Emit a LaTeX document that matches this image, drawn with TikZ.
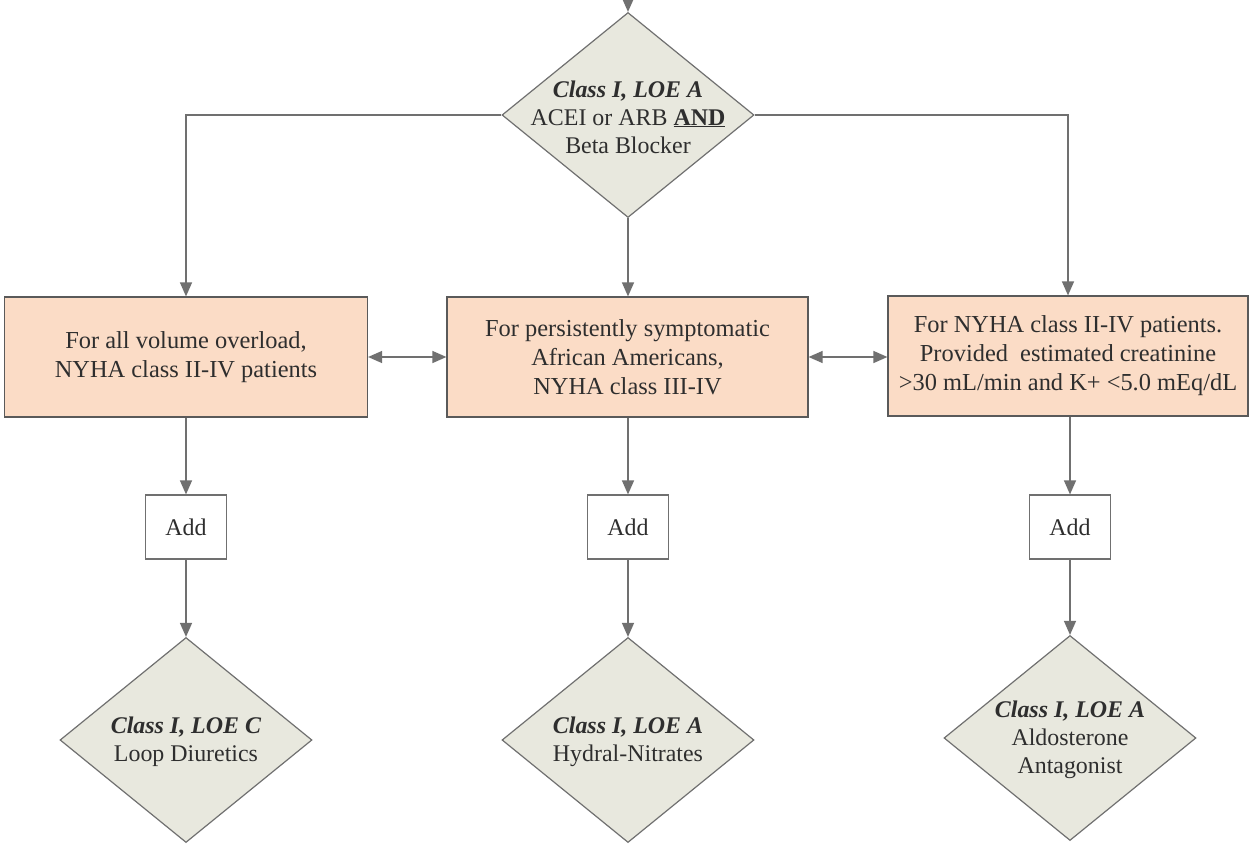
\documentclass[tikz,border=0pt]{standalone}
\usepackage{fontspec}
\setmainfont{Liberation Serif}
\usetikzlibrary{shapes.geometric,arrows.meta}
\definecolor{dfill}{HTML}{E8E8DE}
\definecolor{bfill}{HTML}{FBDCC6}
\definecolor{lgray}{HTML}{707070}
\definecolor{bgray}{HTML}{5A5A5A}
\definecolor{tcol}{HTML}{2E2E2E}
\begin{document}
\begin{tikzpicture}[x=1bp,y=-1bp,
 dia/.style={diamond, draw=lgray, fill=dfill, line width=1.2bp, minimum width=252bp, minimum height=205bp, inner sep=0pt},
 dtext/.style={text=tcol, align=center, font=\fontsize{24}{28}\selectfont},
 box/.style={rectangle, draw=bgray, fill=bfill, line width=1.2bp, minimum height=120bp, text=tcol, align=center, font=\fontsize{24.5}{29}\selectfont},
 addbox/.style={rectangle, draw=lgray, fill=white, line width=1.2bp, minimum width=81bp, minimum height=64bp, text=tcol, font=\fontsize{24}{28}\selectfont},
 arr/.style={draw=lgray, line width=1.3bp, -{Triangle[length=14bp,width=12bp]}},
 darr/.style={draw=lgray, line width=1.3bp, {Triangle[length=14bp,width=12bp]}-{Triangle[length=14bp,width=12bp]}},
]
\useasboundingbox[fill=white] (0,0) rectangle (1251,845);

\node[dia] (top) at (628,115) {};
\node[dtext] (toptext) at (628,117) {\textbf{\textit{Class I, LOE A}}\\ ACEI or ARB \underline{\textbf{AND}}\\ Beta Blocker};

\node[box, minimum width=363bp] (b1) at (186,357) {For all volume overload,\\NYHA class II-IV patients};
\node[box, minimum width=361bp] (b2) at (627.5,357) {For persistently symptomatic\\African Americans,\\NYHA class III-IV};
\node[box, minimum width=360bp] (b3) at (1068,356) {For NYHA class II-IV patients.\\Provided\ \ estimated creatinine\\>30 mL/min and K+ <5.0 mEq/dL};

\node[addbox] (a1) at (186,527) {Add};
\node[addbox] (a2) at (628,527) {Add};
\node[addbox] (a3) at (1070,527) {Add};

\node[dia] (d1) at (186,740) {};
\node[dtext] (d1t) at (186,742) {\textbf{\textit{Class I, LOE C}}\\Loop Diuretics};
\node[dia] (d2) at (628,740) {};
\node[dtext] (d2t) at (628,742) {\textbf{\textit{Class I, LOE A}}\\Hydral-Nitrates};
\node[dia] (d3) at (1070,738) {};
\node[dtext] (d3t) at (1070,740) {\textbf{\textit{Class I, LOE A}}\\Aldosterone\\Antagonist};

\coordinate (start) at (628,-2);
\draw[arr] (start) -- (top.north);
\draw[arr] (top.west) -| (b1.north);
\draw[arr] (top.south) -- (top.south |- b2.north);
\draw[arr] (top.east) -| (b3.north);

\draw[darr] (b1.east) -- (b2.west);
\draw[darr] (b2.east) -- (b2.east -| b3.west);

\draw[arr] (b1.south) -- (a1.north);
\draw[arr] (b2.south -| a2.north) -- (a2.north);
\draw[arr] (b3.south -| a3.north) -- (a3.north);

\draw[arr] (a1.south) -- (d1.north);
\draw[arr] (a2.south) -- (d2.north);
\draw[arr] (a3.south) -- (d3.north);
\end{tikzpicture}
\end{document}
